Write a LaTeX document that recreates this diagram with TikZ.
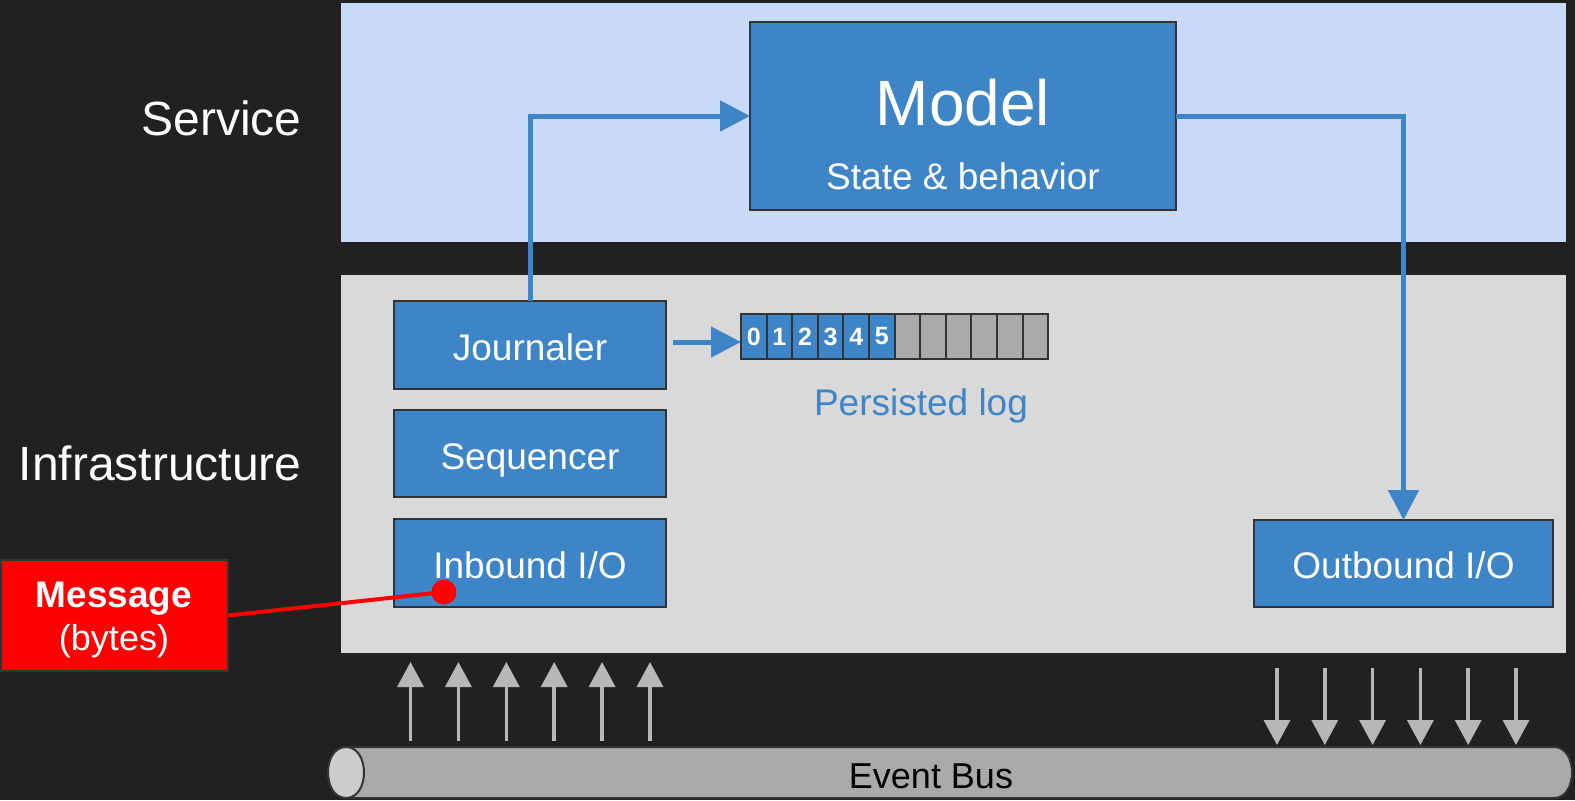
\documentclass[tikz,border=0pt]{standalone}
\usepackage{fontspec}
\setmainfont{Liberation Sans}
\usetikzlibrary{fit,arrows.meta}

\definecolor{bg}{HTML}{212121}
\definecolor{svcpanel}{HTML}{C9DAF8}
\definecolor{infpanel}{HTML}{D9D9D9}
\definecolor{boxblue}{HTML}{3D85C6}
\definecolor{edge}{HTML}{333333}
\definecolor{busgray}{HTML}{AAAAAA}
\definecolor{buscap}{HTML}{CCCCCC}
\definecolor{pipegray}{HTML}{B7B7B7}
\definecolor{msgred}{HTML}{FF0000}

\newcommand\pxfont[1]{\fontsize{#1pt}{#1pt}\selectfont}

\begin{document}
\begin{tikzpicture}[x=0.5pt,y=-0.5pt,
  panel/.style={draw=none, inner sep=0pt, outer sep=0pt},
  box/.style={fill=boxblue, draw=edge, line width=1pt, inner sep=0pt, outer sep=0pt},
  boxtext/.style={text=white, font=\pxfont{18.5}, inner sep=0pt, yshift=-1pt},
  layerlabel/.style={text=white, font=\pxfont{24}, inner sep=0pt, anchor=base east},
  logcell/.style={draw=edge, line width=1pt, inner sep=0pt, outer sep=0pt},
  celltext/.style={text=white, font=\bfseries\pxfont{12.5}, inner sep=0pt},
  flow/.style={draw=boxblue, line width=2.5pt, -{Triangle[length=15pt,width=15pt]}},
  pipe/.style={draw=pipegray, line width=1.75pt, -{Triangle[length=12.5pt,width=13pt]}},
  redline/.style={draw=msgred, line width=2pt},
  plain/.style={inner sep=0pt, anchor=base}]

% background
\fill[bg] (0,0) rectangle (1575,800);
\useasboundingbox (0,0) rectangle (1575,800);

% layer panels
\node[panel, fill=svcpanel, fit={(341,3) (1566,242)}] (service) {};
\node[panel, fill=infpanel, fit={(341,275) (1566,653)}] (infra) {};

% layer labels
\node[layerlabel] (svclabel) at (302,135) {Service};
\node[layerlabel] (inflabel) at (302,480) {Infrastructure};

% model
\node[box, fit={(750,22) (1176,210)}] (model) {};
\node[plain, text=white, font=\pxfont{32}] (modeltitle) at (963,125) {Model};
\node[plain, text=white, font=\pxfont{18.5}] (modelsub) at (963,189) {State \& behavior};

% infrastructure components
\node[box, fit={(394,301) (666,389)}, label={[boxtext]center:Journaler}] (journaler) {};
\node[box, fit={(394,410) (666,497)}, label={[boxtext, yshift=-2.5pt]center:Sequencer}] (sequencer) {};
\node[box, fit={(394,519) (666,607)}, label={[boxtext]center:Inbound I/O}] (inbound) {};
\node[box, fit={(1254,520) (1553,607)}, label={[boxtext]center:Outbound I/O}] (outbound) {};

% persisted log
\foreach \i in {0,...,5}
  \node[logcell, fill=boxblue, fit={(741+25.6*\i,314) (766.6+25.6*\i,359)},
        label={[celltext]center:\i}] (cell\i) {};
\foreach \i in {6,...,11}
  \node[logcell, fill=busgray, fit={(741+25.6*\i,314) (766.6+25.6*\i,359)}] (cell\i) {};
\node[plain, text=boxblue, font=\pxfont{18.5}] (loglabel) at (921,415) {Persisted log};

% flows
\draw[flow] (journaler.north) |- (model.west);
\draw[flow] (model.east) -| (outbound.north);
\draw[flow] ([xshift=3.5pt,yshift=1.5pt]journaler.east) -- ([yshift=1.5pt]journaler.east -| cell0.west);

% event bus cylinder
\filldraw[fill=busgray, draw=edge, line width=1pt]
  (346,747) -- (1554,747) .. controls (1578,747) and (1578,798) .. (1554,798)
  -- (346,798) -- cycle;
\filldraw[fill=buscap, draw=edge, line width=1pt]
  (346,747) .. controls (322,747) and (322,798) .. (346,798)
  .. controls (370,798) and (370,747) .. (346,747) -- cycle;
\node[plain, text=black, font=\pxfont{18}] (bus) at (931,788) {Event Bus};

% inbound and outbound traffic
\foreach \i in {0,...,5} {
  \coordinate (upfrom\i) at (410.5+47.9*\i,741);
  \coordinate (upto\i) at (410.5+47.9*\i,662);
  \draw[pipe] (upfrom\i) -- (upto\i);
  \coordinate (dnfrom\i) at (1277+47.8*\i,668);
  \coordinate (dnto\i) at (1277+47.8*\i,745);
  \draw[pipe] (dnfrom\i) -- (dnto\i);
}

% incoming message
\node[panel, fill=msgred, draw=edge, line width=1pt, fit={(1,560) (228,671)}] (message) {};
\node[plain, text=white, font=\bfseries\pxfont{18.5}] (msgtitle) at (114,607) {Message};
\node[plain, text=white, font=\pxfont{18}] (msgsub) at (114,650) {(bytes)};
\node[circle, fill=msgred, minimum size=12.5pt, inner sep=0pt] (entry) at (444,592) {};
\draw[redline] (message.east) -- (entry.center);

\end{tikzpicture}
\end{document}
